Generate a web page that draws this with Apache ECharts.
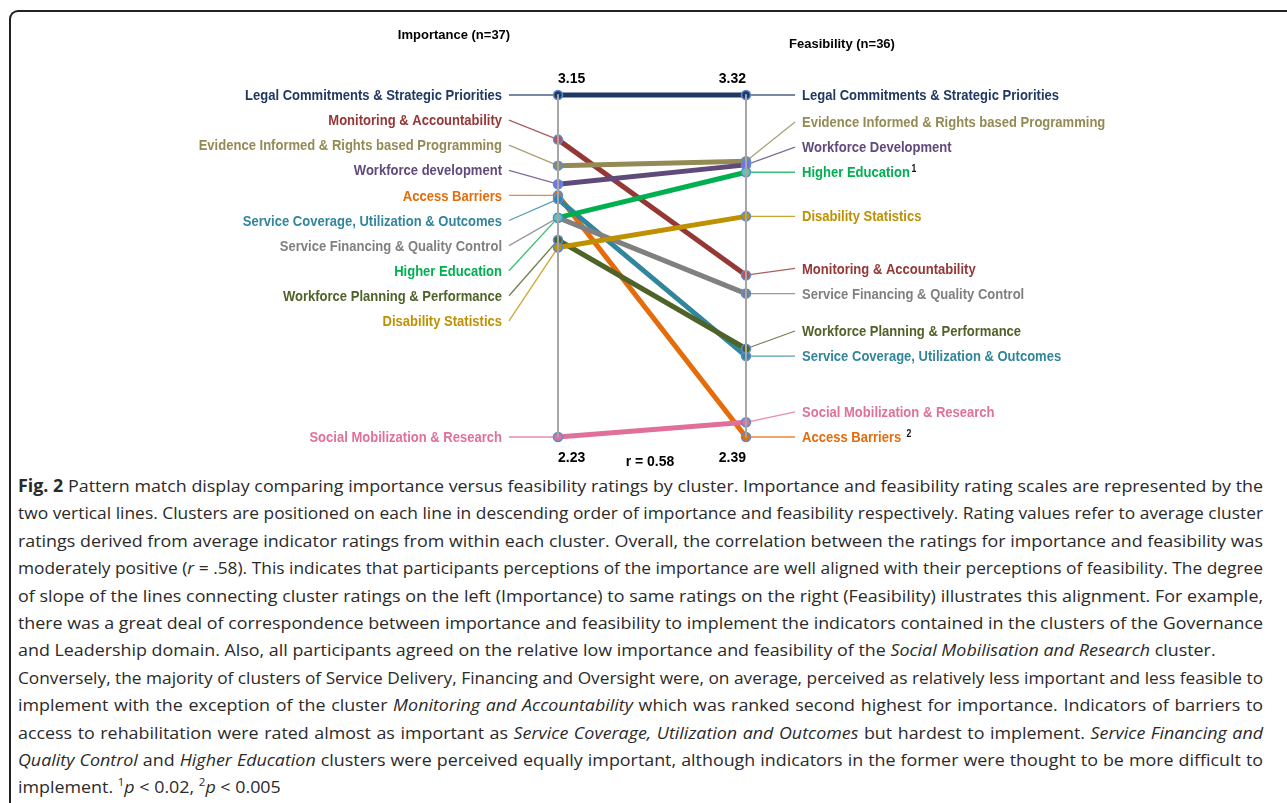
<!DOCTYPE html>
<html>
<head>
<meta charset="utf-8">
<title>Pattern match: importance vs feasibility</title>
<script src="https://cdn.jsdelivr.net/npm/echarts@6.0.0/dist/echarts.min.js"></script>
<style>
  html, body { margin: 0; padding: 0; background: #fff; width: 1287px; height: 803px; overflow: hidden; }
  #frame { position: absolute; left: 9px; top: 10px; width: 1320px; height: 830px; box-sizing: border-box;
           border-top: 2px solid #222; border-left: 2px solid #222; border-top-left-radius: 9px; }
  #chart { position: absolute; left: 0; top: 0; width: 1287px; height: 470px; }
  #caption { position: absolute; left: 18px; top: 472px; font-family: 'Open Sans', sans-serif;
             font-size: 17px; line-height: 27.4px; color: #2a2a2a; }
  #caption div { height: 27.4px; }
  #caption span.l { display: inline-block; white-space: nowrap; transform-origin: 0 50%; }
  #caption span.j { text-align: justify; text-align-last: justify; white-space: normal; }
  sup { font-size: 11px; line-height: 0; }
</style>
</head>
<body>
<div id="frame"></div>
<div id="chart"></div>
<div id="caption">
  <div><span class="l"><b>Fig. 2</b> Pattern match display comparing importance versus feasibility ratings by cluster. Importance and feasibility rating scales are represented by the</span></div>
  <div><span class="l">two vertical lines. Clusters are positioned on each line in descending order of importance and feasibility respectively. Rating values refer to average cluster</span></div>
  <div><span class="l">ratings derived from average indicator ratings from within each cluster. Overall, the correlation between the ratings for importance and feasibility was</span></div>
  <div><span class="l">moderately positive (<i>r</i> = .58). This indicates that participants perceptions of the importance are well aligned with their perceptions of feasibility. The degree</span></div>
  <div><span class="l">of slope of the lines connecting cluster ratings on the left (Importance) to same ratings on the right (Feasibility) illustrates this alignment. For example,</span></div>
  <div><span class="l">there was a great deal of correspondence between importance and feasibility to implement the indicators contained in the clusters of the Governance</span></div>
  <div><span class="l" data-last="1">and Leadership domain. Also, all participants agreed on the relative low importance and feasibility of the <i>Social Mobilisation and Research</i> cluster.</span></div>
  <div><span class="l">Conversely, the majority of clusters of Service Delivery, Financing and Oversight were, on average, perceived as relatively less important and less feasible to</span></div>
  <div><span class="l">implement with the exception of the cluster <i>Monitoring and Accountability</i> which was ranked second highest for importance. Indicators of barriers to</span></div>
  <div><span class="l">access to rehabilitation were rated almost as important as <i>Service Coverage, Utilization and Outcomes</i> but hardest to implement. <i>Service Financing and</i></span></div>
  <div><span class="l"><i>Quality Control</i> and <i>Higher Education</i> clusters were perceived equally important, although indicators in the former were thought to be more difficult to</span></div>
  <div><span class="l" data-last="1">implement. <sup>1</sup><i>p</i> &lt; 0.02, <sup>2</sup><i>p</i> &lt; 0.005</span></div>
</div>
<script>
// clusters in the order of the importance axis (top to bottom)
const clusters = [
  'Legal Commitments & Strategic Priorities',
  'Monitoring & Accountability',
  'Evidence Informed & Rights based Programming',
  'Workforce development',
  'Access Barriers',
  'Service Coverage, Utilization & Outcomes',
  'Service Financing & Quality Control',
  'Higher Education',
  'Workforce Planning & Performance',
  'Disability Statistics',
  'Social Mobilization & Research'
];
// same clusters, as written on the feasibility side
const feasLabels = [
  'Legal Commitments & Strategic Priorities',
  'Monitoring & Accountability',
  'Evidence Informed & Rights based Programming',
  'Workforce Development',
  'Access Barriers ',
  'Service Coverage, Utilization & Outcomes',
  'Service Financing & Quality Control',
  'Higher Education',
  'Workforce Planning & Performance',
  'Disability Statistics',
  'Social Mobilization & Research'
];
const feasNotes = ['', '', '', '', '2', '', '', '1', '', '', ''];
const importance  = [3.15, 3.03, 2.96, 2.91, 2.88, 2.87, 2.82, 2.82, 2.76, 2.74, 2.23];
const feasibility = [3.32, 2.83, 3.14, 3.13, 2.39, 2.61, 2.78, 3.11, 2.63, 2.99, 2.43];
const lineColors = ['#1f3864', '#953735', '#948a54', '#604a7b', '#e46c0a', '#31859c',
                    '#808080', '#00b050', '#4f6228', '#bf9000', '#e0709a'];
const dotColors  = ['#1f3864', '#c0504d', '#948a54', '#7b6fe8', '#e46c0a', '#31859c',
                    '#808080', '#5fc7a8', '#4f6228', '#bf9000', '#e0709a'];
const axisTitles = ['Importance (n=37)', 'Feasibility (n=36)'];
const correlation = 0.58;

const NARROW = '"Liberation Sans Narrow", "Arial Narrow", "Liberation Sans", sans-serif';
const LABEL_FONT = 'bold 15px ' + NARROW;
const SLOT = 25.1;

// the figure's label face is narrower than what we have: squeeze to its width
var ctx = document.createElement('canvas').getContext('2d');
ctx.font = LABEL_FONT;
const squeeze = Math.min(1, 257 / ctx.measureText(clusters[0]).width);

var chart = echarts.init(document.getElementById('chart'));

// left: labels stacked in rank order, lowest one next to its point
function leftSlots(api) {
  const top = api.coord([0, Math.max(...importance)])[1];
  const order = importance.map((v, k) => k).sort((a, b) => importance[b] - importance[a] || a - b);
  const slots = [];
  order.forEach((k, r) => {
    slots[k] = r === order.length - 1 ? api.coord([0, importance[k]])[1] : top + r * SLOT;
  });
  return slots;
}
// right: labels sit at their point, pushed upward when too close to the one below
function rightSlots(api) {
  const ys = feasibility.map(v => api.coord([1, v])[1]);
  const order = ys.map((y, k) => k).sort((a, b) => ys[b] - ys[a]);
  const slots = [];
  let prev = Infinity;
  order.forEach(k => { const y = Math.min(ys[k], prev - SLOT); slots[k] = y; prev = y; });
  return slots;
}

function labelItem(side) {
  return function (params, api) {
    const i = params.dataIndex;
    const pt = api.coord([api.value(0), api.value(1)]);
    const y = (side === 0 ? leftSlots(api) : rightSlots(api))[i];
    const dir = side === 0 ? -1 : 1;
    let text = side === 0 ? clusters[i] : feasLabels[i];
    if (side === 1 && feasNotes[i]) text += '{s|' + feasNotes[i] + '}';
    return {
      type: 'group',
      children: [
        { type: 'line', shape: { x1: pt[0], y1: pt[1], x2: pt[0] + dir * 49, y2: y },
          style: { stroke: lineColors[i], lineWidth: 1.3, opacity: 0.8 } },
        { type: 'text', x: pt[0] + dir * 56, y: y + 1, scaleX: squeeze,
          style: {
            text: text, x: 0, y: 0,
            align: side === 0 ? 'right' : 'left', verticalAlign: 'middle',
            fill: lineColors[i], font: LABEL_FONT,
            rich: { s: { fontSize: 10, fontWeight: 'bold', fontFamily: NARROW, fill: '#111', verticalAlign: 'top', padding: [0, 0, 7, 2] } }
          } }
      ]
    };
  };
}

function dotData(values, side) {
  const hi = Math.max(...values), lo = Math.min(...values);
  return values.map((v, i) => {
    const item = { value: [side, v], itemStyle: { color: dotColors[i] } };
    if (v === hi || v === lo) {
      item.label = { show: true, position: v === hi ? 'top' : 'bottom', distance: v === hi ? 4 : 9,
                     align: side === 0 ? 'left' : 'right' };
    }
    return item;
  });
}

const rect = { left: 558, right: 541, top: 95, bottom: 33 };
const hiddenAxis = {
  axisLine: { show: true, lineStyle: { color: '#a6a6a6', width: 2 } },
  axisTick: { show: false }, axisLabel: { show: false, formatter: () => '' },
  splitLine: { show: false }, name: ''
};

var option = {
  animation: false,
  title: [
    { text: axisTitles[0], left: 449, top: 24, textAlign: 'center',
      textStyle: { fontFamily: NARROW, fontSize: 13, fontWeight: 'bold', color: '#000' } },
    { text: axisTitles[1], left: 837, top: 33, textAlign: 'center',
      textStyle: { fontFamily: NARROW, fontSize: 13, fontWeight: 'bold', color: '#000' } }
  ],
  graphic: [
    { type: 'text', x: 650, y: 462, style: { text: 'r = ' + correlation.toFixed(2), font: 'bold 14px ' + NARROW,
      fill: '#000', align: 'center', verticalAlign: 'middle' } }
  ],
  parallel: Object.assign({ layout: 'horizontal', parallelAxisDefault: hiddenAxis }, rect),
  parallelAxis: [
    Object.assign({ dim: 0, type: 'value', min: 2.23, max: 3.15 }, hiddenAxis),
    Object.assign({ dim: 1, type: 'value', min: 2.39, max: 3.32 }, hiddenAxis)
  ],
  grid: Object.assign({}, rect),
  xAxis: { type: 'value', min: 0, max: 1, show: false },
  yAxis: [
    { type: 'value', min: 2.23, max: 3.15, show: false },
    { type: 'value', min: 2.39, max: 3.32, show: false }
  ],
  series: [
    {
      type: 'parallel', z: 2, silent: true,
      lineStyle: { width: 5, opacity: 1 },
      data: clusters.map((n, i) => ({ name: n, value: [importance[i], feasibility[i]],
                                     lineStyle: { color: lineColors[i] } }))
    },
    {
      type: 'custom', z: 1, silent: true, yAxisIndex: 0, encode: { x: 0, y: 1 },
      renderItem: labelItem(0), data: importance.map(v => [0, v])
    },
    {
      type: 'custom', z: 1, silent: true, yAxisIndex: 1, encode: { x: 0, y: 1 },
      renderItem: labelItem(1), data: feasibility.map(v => [1, v])
    },
    {
      type: 'scatter', z: 5, yAxisIndex: 0, clip: false, symbolSize: 9,
      itemStyle: { borderColor: '#5b8bd0', borderWidth: 1.5, opacity: 1 },
      label: { fontFamily: NARROW, fontSize: 14, fontWeight: 'bold', color: '#000',
               formatter: p => p.value[1].toFixed(2) },
      data: dotData(importance, 0)
    },
    {
      type: 'scatter', z: 5, yAxisIndex: 1, clip: false, symbolSize: 9,
      itemStyle: { borderColor: '#5b8bd0', borderWidth: 1.5, opacity: 1 },
      label: { fontFamily: NARROW, fontSize: 14, fontWeight: 'bold', color: '#000',
               formatter: p => p.value[1].toFixed(2) },
      data: dotData(feasibility, 1)
    }
  ]
};
option && chart.setOption(option);

// caption: a common squeeze, long lines squeezed a bit more, full lines justified to the text width
var spans = Array.prototype.slice.call(document.querySelectorAll('#caption span.l'));
var widths = spans.map(s => s.getBoundingClientRect().width);
var fits = spans.filter(s => !s.dataset.last).map(s => 1244 / widths[spans.indexOf(s)]).sort();
var k = fits[Math.floor(fits.length / 2)];
spans.forEach(function (s, i) {
  var ki = k;
  if (!s.dataset.last) {
    ki = Math.min(k, 1244 / widths[i]);
    s.classList.add('j');
    s.style.width = (1244 / ki + 1) + 'px';
  }
  s.style.transform = 'scaleX(' + ki + ')';
});
</script>
</body>
</html>
